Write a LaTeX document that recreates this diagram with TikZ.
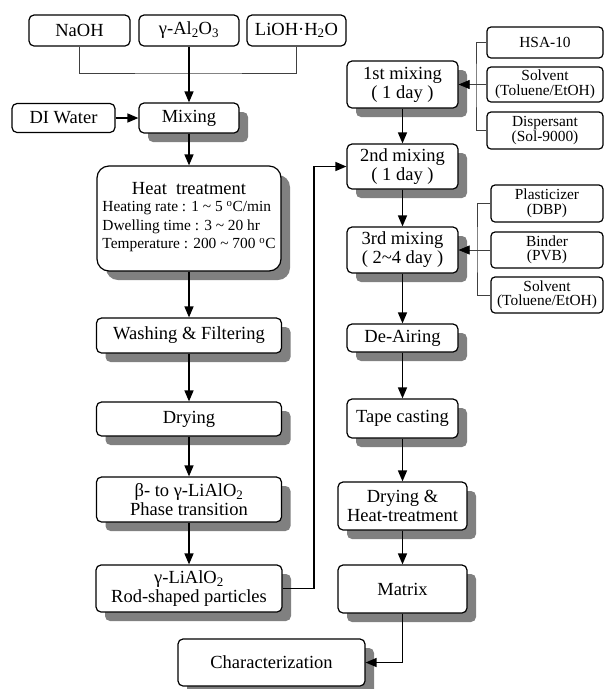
\documentclass[tikz,border=0pt]{standalone}
\usepackage{fontspec}
\setmainfont{Liberation Serif}
\usetikzlibrary{arrows.meta,shadows}

\begin{document}
\begin{tikzpicture}
  [x=1pt,y=-1pt,
   box/.style={draw,line width=1.2pt,rounded corners=5pt,fill=white,align=center,inner sep=1pt,
     font=\fontsize{18.5}{19}\selectfont},
   stepbox/.style={box,drop shadow={shadow xshift=9pt,shadow yshift=-9pt,fill=black!50,opacity=1}},
   addbox/.style={box,rounded corners=4pt,font=\fontsize{15.4}{14.5}\selectfont},
   flow/.style={line width=1.4pt,-{Triangle[length=11pt,width=9pt]}},
   feed/.style={line width=0.6pt,draw=black!75},
   feedflow/.style={feed,-{Triangle[length=11pt,width=9pt,black]}}]

  \useasboundingbox (0,0) rectangle (604,689);

  % raw materials
  \node[box,minimum width=101pt,minimum height=31pt] (naoh) at (79.5,30.5) {NaOH};
  \node[box,minimum width=100pt,minimum height=31pt] (alo) at (189,30.5) {γ-Al\textsubscript{2}O\textsubscript{3}};
  \node[box,minimum width=99pt,minimum height=31pt] (lioh) at (296.5,30.5) {LiOH·H\textsubscript{2}O};
  \node[box,minimum width=103pt,minimum height=29pt] (diw) at (63.5,118) {DI Water};

  % powder synthesis
  \node[stepbox,minimum width=100pt,minimum height=30pt] (mix) at (189,118) {Mixing};
  \node[stepbox,rounded corners=12pt,minimum width=184pt,minimum height=105pt] (heat) at (189,218.5)
    {Heat\ \ treatment\\[3pt]
     {\fontsize{15.4}{18.5}\selectfont\begin{tabular}{@{}l@{}}
       Heating rate : 1 \textasciitilde{} 5 \textsuperscript{o}C/min\\
       Dwelling time : 3 \textasciitilde{} 20 hr\\
       Temperature : 200 \textasciitilde{} 700 \textsuperscript{o}C
     \end{tabular}}};
  \node[stepbox,minimum width=185pt,minimum height=35pt] (wash) at (189,335.5) {Washing \& Filtering};
  \node[stepbox,minimum width=185pt,minimum height=34pt] (dry) at (189,419) {Drying};
  \node[stepbox,minimum width=185pt,minimum height=45pt] (phase) at (189,499.5) {β- to γ-LiAlO\textsubscript{2}\\Phase transition};
  \node[stepbox,minimum width=186pt,minimum height=47pt] (rod) at (189,588.5) {γ-LiAlO\textsubscript{2}\\Rod-shaped particles};
  \node[stepbox,minimum width=187pt,minimum height=47pt] (char) at (271.5,662.5) {Characterization};

  % tape casting route
  \node[stepbox,minimum width=111pt,minimum height=47pt] (mix1) at (402.5,84.5) {1st mixing\\( 1 day )};
  \node[stepbox,minimum width=111pt,minimum height=45pt] (mix2) at (402.5,166.5) {2nd mixing\\( 1 day )};
  \node[stepbox,minimum width=111pt,minimum height=46pt] (mix3) at (402.5,250) {3rd mixing\\( 2\textasciitilde 4 day )};
  \node[stepbox,minimum width=111pt,minimum height=28pt] (deair) at (402.5,338) {De-Airing};
  \node[stepbox,minimum width=111pt,minimum height=39pt] (tape) at (402.5,418.5) {Tape casting};
  \node[stepbox,minimum width=129pt,minimum height=48pt] (dryheat) at (402.5,506) {Drying \&\\Heat-treatment};
  \node[stepbox,minimum width=129pt,minimum height=48pt] (matrix) at (402.5,589) {Matrix};

  % additives
  \node[addbox,minimum width=116pt,minimum height=31pt] (hsa) at (545,42.5) {HSA-10};
  \node[addbox,minimum width=116pt,minimum height=35pt] (solv1) at (545,84.5) {Solvent\\(Toluene/EtOH)};
  \node[addbox,minimum width=116pt,minimum height=37pt] (disp) at (545,130.5) {Dispersant\\(Sol-9000)};
  \node[addbox,minimum width=112pt,minimum height=37pt] (plast) at (547,203.5) {Plasticizer\\(DBP)};
  \node[addbox,minimum width=112pt,minimum height=36pt] (bind) at (547,250) {Binder\\(PVB)};
  \node[addbox,minimum width=112pt,minimum height=36pt] (solv2) at (547,295) {Solvent\\(Toluene/EtOH)};

  \coordinate (topjoin) at (189,73);
  \coordinate (feed1) at (476,84.5);
  \coordinate (feed3) at (477,250);
  \coordinate (bend) at (314,0);

  \draw[feed] (naoh.south) |- (topjoin) -| (lioh.south);
  \draw[flow] (alo) -- (mix);
  \draw[flow] (diw) -- (mix);
  \draw[feed] (hsa.west) -| (feed1) |- (disp.west);
  \draw[feedflow] (solv1.west) -- (mix1.east);
  \draw[feed] (plast.west) -| (feed3) |- (solv2.west);
  \draw[feedflow] (bind.west) -- (mix3.east);
  \foreach \from/\to in {mix/heat,heat/wash,wash/dry,dry/phase,phase/rod,mix1/mix2,mix2/mix3,mix3/deair,deair/tape,tape/dryheat,dryheat/matrix}
    \draw[flow] (\from) -- (\to);
  \draw[flow] (rod.east) -- (rod.east -| bend) |- (mix2.west);
  \draw[flow] (matrix.south) |- (char.east);
\end{tikzpicture}
\end{document}
